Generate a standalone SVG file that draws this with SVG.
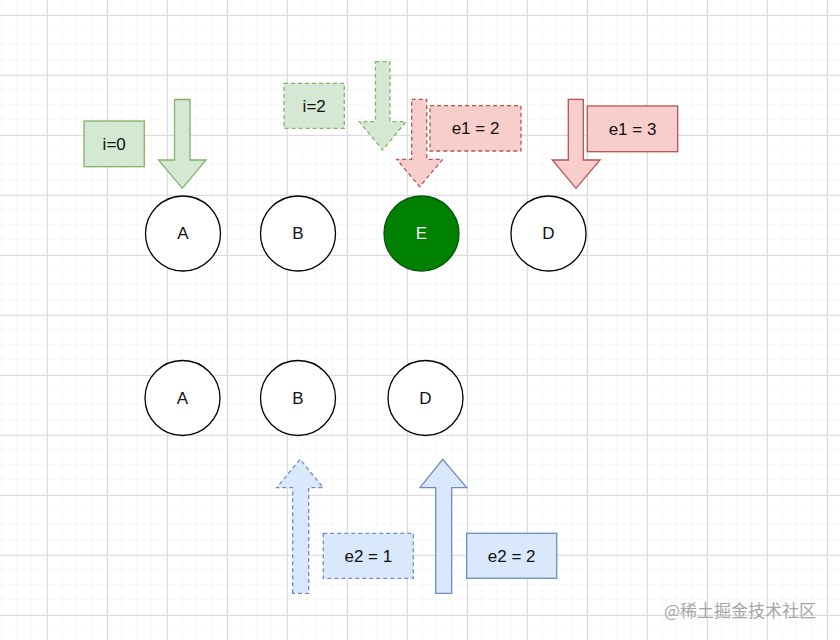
<svg xmlns="http://www.w3.org/2000/svg" width="840" height="640" viewBox="0 0 840 640">
<defs>
<pattern id="minor" x="2" y="0" width="15" height="15" patternUnits="userSpaceOnUse">
<path d="M15 0V15M0 15H15" fill="none" stroke="#f1f1f1" stroke-width="1"/>
</pattern>
<pattern id="major" x="47" y="15" width="60" height="60" patternUnits="userSpaceOnUse">
<path d="M0.5 0V60M0 0.5H60" fill="none" stroke="#dcdcdc" stroke-width="1"/>
</pattern>
</defs>
<style>
.t{font-family:"Liberation Sans",Arial,sans-serif;font-size:17px;fill:#111111;text-anchor:middle;dominant-baseline:central}
.c{fill:#ffffff;stroke:#000000;stroke-width:1.3}
.g{fill:#d5e8d4;stroke:#82b366;stroke-width:1.3}
.r{fill:#f8cecc;stroke:#b85450;stroke-width:1.3}
.b{fill:#dae8fc;stroke:#6c8ebf;stroke-width:1.3}
.d{stroke-dasharray:4 3}
</style>
<rect width="840" height="640" fill="#ffffff"/>
<rect width="840" height="640" fill="url(#minor)"/>
<rect width="840" height="640" fill="url(#major)"/>

<g id="connectors"></g>

<g id="arrow-i0"><path class="g" d="M174.5 99.5H190V160H206L182.3 188.3L158.5 160H174.5Z"/></g>
<g id="arrow-i2"><path class="g d" d="M375.5 61.7H390V121.7H406L382.7 150L359.3 121.7H375.5Z"/></g>
<g id="arrow-e1-2"><path class="r d" d="M411.7 99.3H426.7V159.3H442.7L419.7 186.7L396.7 159.3H411.7Z"/></g>
<g id="arrow-e1-3"><path class="r" d="M568.3 99.3H583.3V160H600L576 188.3L552.3 160H568.3Z"/></g>
<g id="arrow-e2-1"><path class="b d" d="M292.7 593.3V487.7H276.7L300 459.3L323.3 487.7H308.7V593.3Z"/></g>
<g id="arrow-e2-2"><path class="b" d="M435.7 593.3V487.7H420L442.7 459.3L466.7 487.7H451.7V593.3Z"/></g>

<g id="label-i0"><rect class="g" x="84" y="121" width="60.3" height="45.7"/><text class="t" x="114.2" y="144">i=0</text></g>
<g id="label-i2"><rect class="g d" x="284" y="83.3" width="60.3" height="45"/><text class="t" x="314.2" y="106">i=2</text></g>
<g id="label-e1-2"><rect class="r d" x="430" y="105.7" width="91" height="45.3"/><text class="t" x="475.5" y="128.5">e1 = 2</text></g>
<g id="label-e1-3"><rect class="r" x="587.3" y="106" width="90.4" height="45.7"/><text class="t" x="632.5" y="129">e1 = 3</text></g>
<g id="label-e2-1"><rect class="b d" x="323.3" y="533.3" width="90" height="45"/><text class="t" x="368.3" y="556">e2 = 1</text></g>
<g id="label-e2-2"><rect class="b" x="466.7" y="533.3" width="90" height="45"/><text class="t" x="511.7" y="556">e2 = 2</text></g>

<g id="top-A"><circle class="c" cx="183" cy="233.5" r="37.5"/><text class="t" x="183" y="233.5">A</text></g>
<g id="top-B"><circle class="c" cx="298" cy="233.5" r="37.5"/><text class="t" x="298" y="233.5">B</text></g>
<g id="top-E"><circle cx="421.5" cy="233.5" r="37.5" fill="#008000" stroke="#005700" stroke-width="1.3"/><text class="t" x="421.5" y="233.5" style="fill:#f0f0f0">E</text></g>
<g id="top-D"><circle class="c" cx="548.5" cy="233.5" r="37.5"/><text class="t" x="548.5" y="233.5">D</text></g>

<g id="bottom-A"><circle class="c" cx="182.5" cy="398" r="37.5"/><text class="t" x="182.5" y="398">A</text></g>
<g id="bottom-B"><circle class="c" cx="298" cy="398" r="37.5"/><text class="t" x="298" y="398">B</text></g>
<g id="bottom-D"><circle class="c" cx="425.5" cy="398" r="37.5"/><text class="t" x="425.5" y="398">D</text></g>

<text x="664" y="617" font-family="'Noto Sans CJK SC',sans-serif" font-size="17" fill="#a6a6a6">@稀土掘金技术社区</text>
</svg>
